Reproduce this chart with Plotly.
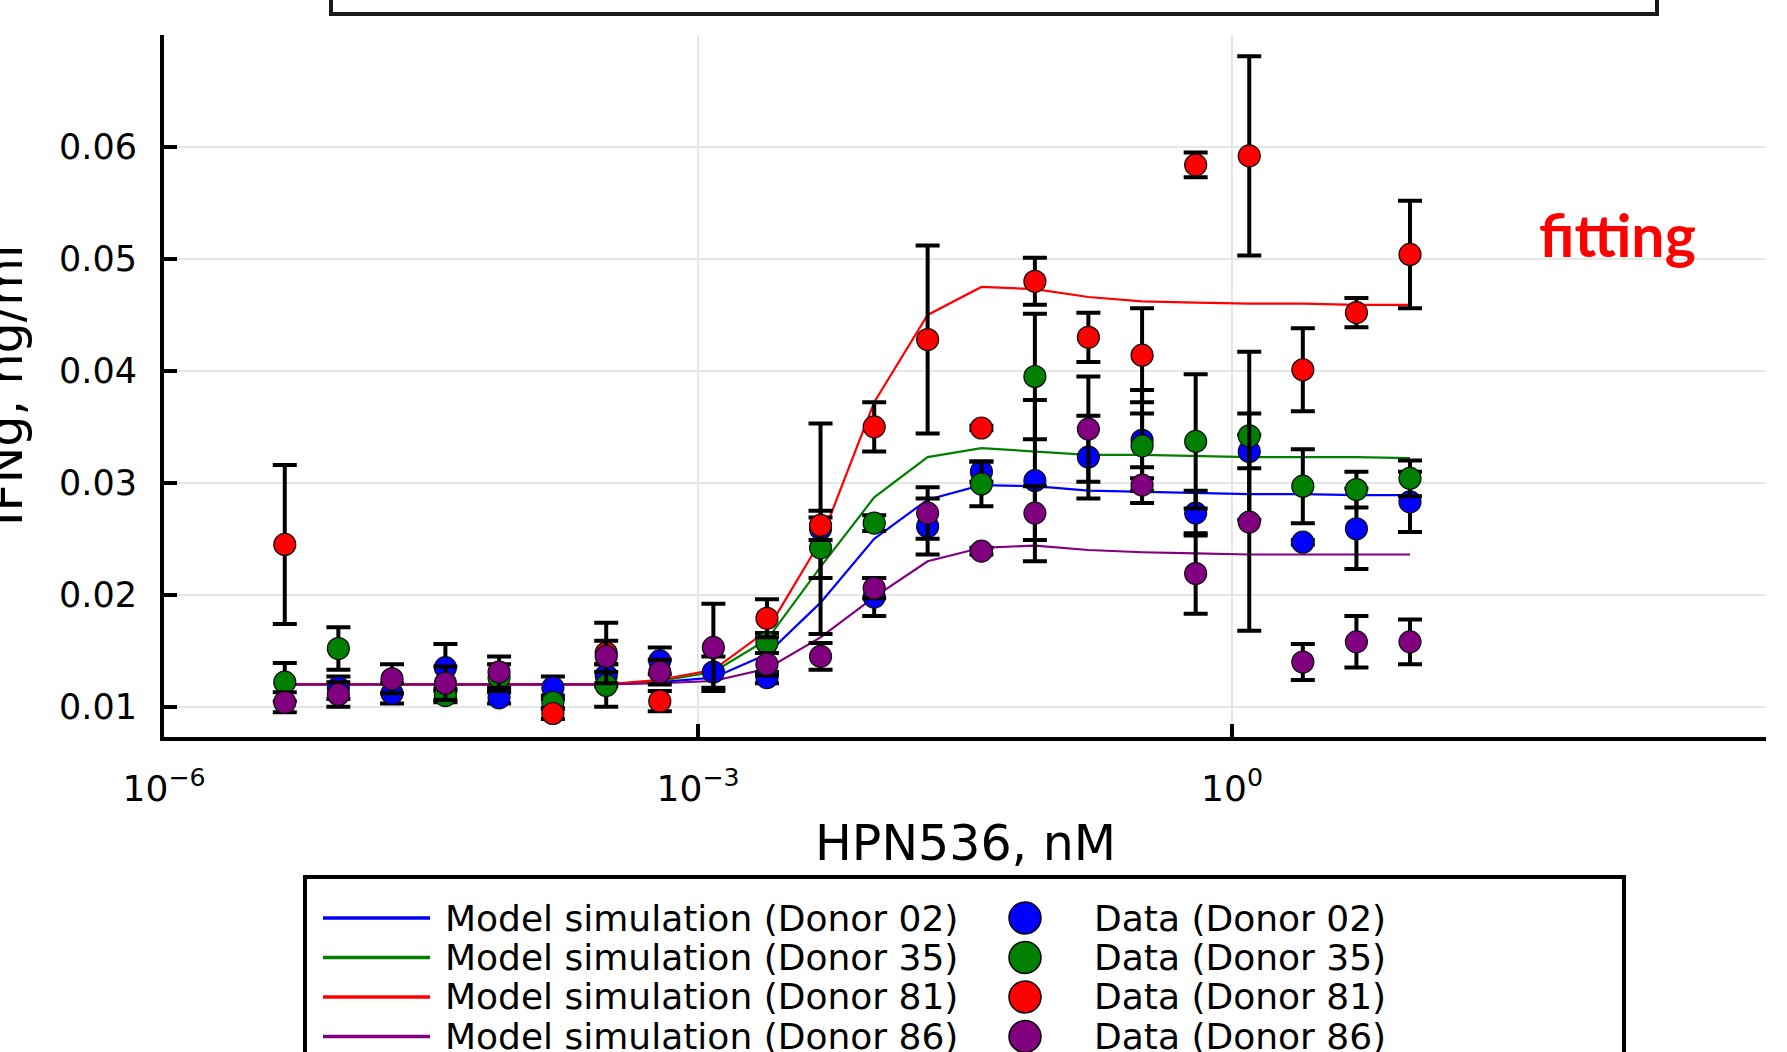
import plotly.graph_objects as go

# ---------------- data ----------------
conc_nM = [4.77e-6, 9.54e-6, 1.91e-5, 3.81e-5, 7.63e-5, 1.53e-4, 3.05e-4, 6.10e-4,
           1.22e-3, 2.44e-3, 4.88e-3, 9.77e-3, 0.0195, 0.0391, 0.0781, 0.156,
           0.3125, 0.625, 1.25, 2.5, 5.0, 10.0]

donors = ["02", "35", "81", "86"]

model_02 = [0.0120, 0.0120, 0.0120, 0.0120, 0.0120, 0.0120, 0.0120, 0.0122, 0.0126, 0.0147, 0.0193,
            0.0250, 0.0285, 0.0298, 0.0297, 0.0293, 0.0292, 0.0291, 0.0290, 0.0290, 0.0289, 0.0289]
model_35 = [0.0120, 0.0120, 0.0120, 0.0120, 0.0120, 0.0120, 0.0120, 0.0123, 0.0131, 0.0160, 0.0225,
            0.0287, 0.0323, 0.0331, 0.0328, 0.0325, 0.0325, 0.0324, 0.0323, 0.0323, 0.0323, 0.0322]
model_81 = [0.0120, 0.0120, 0.0120, 0.0120, 0.0120, 0.0120, 0.0120, 0.0124, 0.0133, 0.0168, 0.0248,
            0.0372, 0.0450, 0.0475, 0.0473, 0.0466, 0.0462, 0.0461, 0.0460, 0.0460, 0.0459, 0.0459]
model_86 = [0.0120, 0.0120, 0.0120, 0.0120, 0.0120, 0.0120, 0.0120, 0.0121, 0.0123, 0.0134, 0.0162,
            0.0198, 0.0230, 0.0242, 0.0244, 0.0240, 0.0238, 0.0237, 0.0236, 0.0236, 0.0236, 0.0236]

data_02 = [None, 0.0117, 0.0112, 0.0135, 0.0108, 0.0117, 0.0128, 0.0141, 0.0131, 0.0126, 0.0259,
           0.0198, 0.0261, 0.0310, 0.0302, 0.0323, 0.0338, 0.0273, 0.0328, 0.0247, 0.0259, 0.0283]
err_02 = [None, 0.0010, 0.0009, 0.0021, 0.0005, 0.0010, 0.0010, 0.0012, 0.0014, 0.0005, 0.0094,
          0.0017, 0.0025, 0.0009, 0.0072, 0.0037, 0.0045, 0.0020, 0.0015, 0.0002, 0.0036, 0.0027]

data_35 = [0.0122, 0.0152, None, 0.0110, 0.0126, 0.0104, 0.0119, None, None, 0.0157, 0.0242,
           0.0264, None, 0.0299, 0.0395, None, 0.0333, 0.0337, 0.0342, 0.0297, 0.0294, 0.0304]
err_35 = [0.0017, 0.0019, None, 0.0006, 0.0012, 0.0006, 0.0019, None, None, 0.0009, 0.0027,
          0.0007, None, 0.0020, 0.0056, None, 0.0029, 0.0060, 0.0075, 0.0033, 0.0016, 0.0016]

data_81 = [0.0245, None, None, None, None, 0.0094, 0.0148, 0.0105, None, 0.0179, 0.0262,
           0.0350, 0.0428, 0.0349, 0.0480, 0.0430, 0.0414, 0.0584, 0.0592, 0.0401, 0.0452, 0.0504]
err_81 = [0.0071, None, None, None, None, 0.0005, 0.0027, 0.0009, None, 0.0017, 0.0013,
          0.0022, 0.0084, 0.0002, 0.0021, 0.0022, 0.0042, 0.0011, 0.0089, 0.0037, 0.0013, 0.0048]

data_86 = [0.0104, 0.0111, 0.0125, 0.0121, 0.0131, None, 0.0145, 0.0131, 0.0153, 0.0138, 0.0145,
           0.0206, 0.0273, 0.0239, 0.0273, 0.0348, 0.0298, 0.0219, 0.0265, 0.0140, 0.0158, 0.0158]
err_86 = [0.0009, 0.0011, 0.0013, 0.0015, 0.0014, None, 0.0014, 0.0011, 0.0039, 0.0010, 0.0012,
          0.0009, 0.0023, 0.0003, 0.0024, 0.0047, 0.0016, 0.0036, 0.0097, 0.0016, 0.0023, 0.0020]

x_tick_vals = [1e-6, 1e-3, 1e0, 1e3]
x_tick_text = ["10<sup>−6</sup>", "10<sup>−3</sup>", "10<sup>0</sup>", "10<sup>3</sup>"]
y_tick_vals = [0.01, 0.02, 0.03, 0.04, 0.05, 0.06]
y_tick_text = ["0.01", "0.02", "0.03", "0.04", "0.05", "0.06"]

model_labels = ["Model simulation (Donor 02)", "Model simulation (Donor 35)",
                "Model simulation (Donor 81)", "Model simulation (Donor 86)"]
data_labels = ["Data (Donor 02)", "Data (Donor 35)", "Data (Donor 81)", "Data (Donor 86)"]

colors = ["#0000ff", "#008000", "#ff0000", "#800080"]
models = [model_02, model_35, model_81, model_86]
datas = [data_02, data_35, data_81, data_86]
errs = [err_02, err_35, err_81, err_86]

FONT = "DejaVu Sans"

# ---------------- figure ----------------
fig = go.Figure()
for m, c, lab in zip(models, colors, model_labels):
    fig.add_trace(go.Scatter(x=conc_nM, y=m, mode="lines", name=lab,
                             line=dict(color=c, width=2.2)))
for d, e, c, lab in zip(datas, errs, colors, data_labels):
    fig.add_trace(go.Scatter(x=conc_nM, y=d, mode="markers", name=lab,
                             marker=dict(size=22, color=c, line=dict(color="#111111", width=1.2)),
                             error_y=dict(type="data", array=e, visible=True, color="black",
                                          thickness=4, width=12)))

W, H = 1787, 1052
PL, PR, PT, PB = 164, 1766, 35, 737


def fx(px):
    return (px - PL) / (PR - PL)


def fy(py):
    return (PB - py) / (PB - PT)


shapes = []
annotations = []

# box partially visible at top
shapes.append(dict(type="rect", xref="paper", yref="paper",
                   x0=fx(331), x1=fx(1657), y0=fy(14), y1=fy(-40),
                   line=dict(color="#1a1a1a", width=4), fillcolor="rgba(0,0,0,0)"))

# legend box at bottom
shapes.append(dict(type="rect", xref="paper", yref="paper",
                   x0=fx(305), x1=fx(1624), y0=fy(877), y1=fy(1090),
                   line=dict(color="black", width=4), fillcolor="white"))

row_y = [918, 957.5, 997, 1036.5]
for i in range(4):
    yy = fy(row_y[i])
    shapes.append(dict(type="line", xref="paper", yref="paper",
                       x0=fx(323), x1=fx(430), y0=yy, y1=yy,
                       line=dict(color=colors[i], width=3.5)))
    annotations.append(dict(text=model_labels[i], xref="paper", yref="paper",
                            x=fx(443), y=yy, xanchor="left", yanchor="middle",
                            showarrow=False, font=dict(family=FONT, size=36, color="black")))
    shapes.append(dict(type="circle", xref="paper", yref="paper",
                       xsizemode="pixel", ysizemode="pixel",
                       xanchor=fx(1025), yanchor=yy, x0=-16, x1=16, y0=-16, y1=16,
                       fillcolor=colors[i], line=dict(color="black", width=1.5)))
    annotations.append(dict(text=data_labels[i], xref="paper", yref="paper",
                            x=fx(1092), y=yy, xanchor="left", yanchor="middle",
                            showarrow=False, font=dict(family=FONT, size=36, color="black")))

# axis titles
annotations.append(dict(text="HPN536, nM", xref="paper", yref="paper",
                        x=fx(965), y=fy(843), xanchor="center", yanchor="middle",
                        showarrow=False, font=dict(family=FONT, size=49, color="black")))
annotations.append(dict(text="IFNg, ng/ml", xref="paper", yref="paper",
                        x=fx(5), y=fy(385), xanchor="center", yanchor="middle", textangle=-90,
                        showarrow=False, font=dict(family=FONT, size=49, color="black")))
# fitting label
annotations.append(dict(text="<b>fitting</b>", xref="paper", yref="paper",
                        x=fx(1617), y=fy(235), xanchor="center", yanchor="middle",
                        showarrow=False, font=dict(family="Lato", size=59, color="#ff0000")))

fig.update_layout(
    width=W, height=H,
    margin=dict(l=PL, r=W - PR, t=PT, b=H - PB),
    plot_bgcolor="white", paper_bgcolor="white",
    showlegend=False,
    font=dict(family=FONT, color="black"),
    shapes=shapes, annotations=annotations,
    xaxis=dict(type="log", range=[-6, 3], tickmode="array",
               tickvals=x_tick_vals, ticktext=x_tick_text,
               showgrid=True, gridcolor="#e6e6e6", gridwidth=1.5,
               showline=True, linecolor="black", linewidth=4, mirror=False,
               ticks="inside", ticklen=13, tickwidth=3.5, tickcolor="black",
               tickfont=dict(family=FONT, size=36, color="black"),
               ticklabelstandoff=17, zeroline=False),
    yaxis=dict(range=[0.0073, 0.0700], tickmode="array",
               tickvals=y_tick_vals, ticktext=y_tick_text,
               showgrid=True, gridcolor="#e6e6e6", gridwidth=1.5,
               showline=True, linecolor="black", linewidth=4, mirror=False,
               ticks="inside", ticklen=13, tickwidth=3.5, tickcolor="black",
               tickfont=dict(family=FONT, size=35, color="black"),
               ticklabelstandoff=16, zeroline=False),
)

fig.write_html("out.html", config={"displayModeBar": False},
               post_script="document.body.style.margin='0';document.body.style.overflow='hidden';")
